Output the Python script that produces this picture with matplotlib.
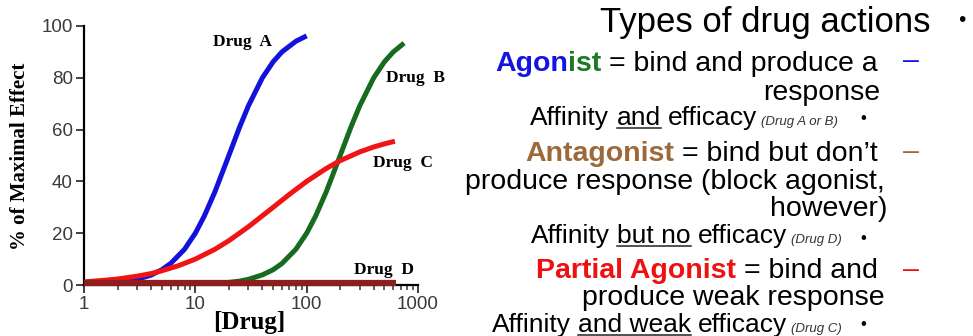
import matplotlib
matplotlib.use("Agg")
import matplotlib.pyplot as plt
from matplotlib.lines import Line2D

# dose-response curves
drug_a_x = [1.5, 2, 3, 4, 5, 6, 8, 10, 12, 15, 20, 25, 30, 40, 50, 60, 80, 100]
drug_a_y = [0.6, 1.0, 2.2, 3.8, 5.9, 8.3, 13.8, 20.0, 26.5, 36.0, 50.0, 61.0, 69.2, 80.0, 86.2, 90.0, 94.1, 96.2]

drug_b_x = [20, 25, 30, 40, 50, 60, 80, 100, 120, 150, 200, 250, 300, 400, 500, 600, 750]
drug_b_y = [1.0, 1.5, 2.2, 3.9, 5.9, 8.3, 13.8, 20.0, 26.5, 36.0, 50.0, 61.0, 69.2, 80.0, 86.2, 90.0, 93.4]

drug_c_x = [1, 1.5, 2, 3, 4, 5, 7, 10, 15, 20, 30, 50, 70, 100, 150, 200, 300, 400, 500, 620]
drug_c_y = [1.2, 1.8, 2.3, 3.4, 4.4, 5.5, 7.4, 10.0, 13.8, 17.1, 22.5, 30.0, 35.0, 40.0, 45.0, 48.0, 51.4, 53.3, 54.5, 55.5]

drug_d_x = [1, 640]
drug_d_y = [0.7, 0.7]

x_ticks = [1, 10, 100, 1000]
x_tick_labels = ["1", "10", "100", "1000"]
y_ticks = [0, 20, 40, 60, 80, 100]

W, H = 973, 336
fig = plt.figure(figsize=(W / 100, H / 100), dpi=100)
renderer = fig.canvas.get_renderer()


def px(x, y):
    # pixel position (from top-left) -> figure fraction
    return x / W, 1 - y / H


####################################### CHART ##########################################
ax = fig.add_axes([84 / W, 51 / H, 334 / W, 259 / H])
ax.plot(drug_a_x, drug_a_y, color="#1212dd", lw=3.6, solid_capstyle="butt")
ax.plot(drug_b_x, drug_b_y, color="#176b1f", lw=3.6, solid_capstyle="butt")
ax.plot(drug_c_x, drug_c_y, color="#f01414", lw=3.6, solid_capstyle="butt")
ax.plot(drug_d_x, drug_d_y, color="#8c1e1e", lw=4.5, solid_capstyle="butt", clip_on=False, zorder=3)

ax.set_xscale("log")
ax.set_xlim(1, 1000)
ax.set_ylim(0, 100)
ax.set_xticks(x_ticks, labels=x_tick_labels)
ax.set_yticks(y_ticks)
ax.xaxis.set_minor_formatter(matplotlib.ticker.NullFormatter())
for s in ["top", "right"]:
    ax.spines[s].set_visible(False)
for s in ["left", "bottom"]:
    ax.spines[s].set_linewidth(1.6)
ax.tick_params(which="major", direction="out", length=6, width=1.3, color="#333333",
               labelsize=13.5, labelcolor="#3a3a3a", pad=2)
ax.tick_params(which="minor", direction="out", length=3.5, width=1.1, color="#333333")
for lab in ax.get_xticklabels() + ax.get_yticklabels():
    lab.set_fontfamily("Liberation Sans")

serif = dict(family="Liberation Serif", weight="bold", color="black")
fig.text(*px(20, 156), "% of Maximal Effect", rotation=90, ha="center", va="center", fontsize=15, **serif)
fig.text(*px(249, 322), "[Drug]", ha="center", va="center", fontsize=18, **serif)
fig.text(*px(242, 42), "Drug  A", ha="center", va="center", fontsize=12.5, **serif)
fig.text(*px(415, 78), "Drug  B", ha="center", va="center", fontsize=12.5, **serif)
fig.text(*px(403, 163), "Drug  C", ha="center", va="center", fontsize=12.5, **serif)
fig.text(*px(384, 270), "Drug  D", ha="center", va="center", fontsize=12.5, **serif)

####################################### TEXT ###########################################
MAIN = 20.5
AFF = 19
SMALL = 9.5


def put_line(parts, x_right, y_base):
    # parts: (text, size, weight, style, color, underline, space_before)
    items = []
    for s, size, weight, style, color, ul, sp in parts:
        t = fig.text(0, 0, s, fontsize=size, fontweight=weight, fontstyle=style, color=color,
                     family="Liberation Sans", ha="left", va="baseline")
        w = t.get_window_extent(renderer).width
        gap = 0.278 * size * 100 / 72 if sp else 0
        items.append((t, w, gap, ul))
    total = sum(w + g for t, w, g, ul in items)
    x = x_right - total
    for t, w, gap, ul in items:
        x += gap
        t.set_position(px(x, y_base))
        if ul:
            fig.add_artist(Line2D([x / W, (x + w) / W], [1 - (y_base + 3) / H] * 2,
                                  color="#222222", lw=1.1))
        x += w


def mark(s, x, y, size, color="black"):
    fig.text(*px(x, y), s, fontsize=size, color=color, family="Liberation Sans",
             ha="center", va="center")


put_line([("Types of drug actions", 25, "normal", "normal", "black", False, False)], 930, 32)
mark("•", 962, 21, 15)

put_line([("Agon", MAIN, "bold", "normal", "#1414e0", False, False),
          ("ist", MAIN, "bold", "normal", "#1b7a22", False, False),
          ("= bind and produce a", MAIN, "normal", "normal", "black", False, True)], 878, 71)
mark("–", 911, 61, MAIN, "#1414e0")
put_line([("response", MAIN, "normal", "normal", "black", False, False)], 880, 100)
put_line([("Affinity", AFF, "normal", "normal", "black", False, False),
          ("and", AFF, "normal", "normal", "black", True, True),
          ("efficacy", AFF, "normal", "normal", "black", False, True),
          ("(Drug A or B)", SMALL, "normal", "italic", "#333333", False, True)], 838, 125)
mark("•", 863, 118, 12)

put_line([("Antagonist", MAIN, "bold", "normal", "#9c6a3a", False, False),
          ("= bind but don’t", MAIN, "normal", "normal", "black", False, True)], 878, 161)
mark("–", 911, 152, MAIN, "#9c6a3a")
put_line([("produce response (block agonist,", MAIN, "normal", "normal", "black", False, False)], 885, 189)
put_line([("however)", MAIN, "normal", "normal", "black", False, False)], 887, 216)
put_line([("Affinity", AFF, "normal", "normal", "black", False, False),
          ("but no", AFF, "normal", "normal", "black", True, True),
          ("efficacy", AFF, "normal", "normal", "black", False, True),
          ("(Drug D)", SMALL, "normal", "italic", "#333333", False, True)], 842, 243)
mark("•", 863, 238, 12)

put_line([("Partial Agonist", MAIN, "bold", "normal", "#ee1111", False, False),
          ("= bind and", MAIN, "normal", "normal", "black", False, True)], 878, 278)
mark("–", 911, 270, MAIN, "#ee1111")
put_line([("produce weak response", MAIN, "normal", "normal", "black", False, False)], 885, 305)
put_line([("Affinity", AFF, "normal", "normal", "black", False, False),
          ("and weak", AFF, "normal", "normal", "black", True, True),
          ("efficacy", AFF, "normal", "normal", "black", False, True),
          ("(Drug C)", SMALL, "normal", "italic", "#333333", False, True)], 842, 332)
mark("•", 863, 325, 12)

fig.savefig("out.png", dpi=100, facecolor="white")
